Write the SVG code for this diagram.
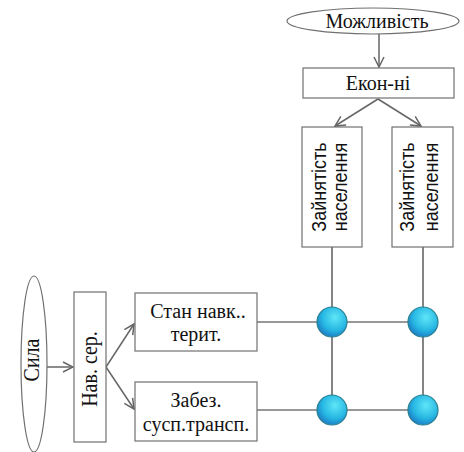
<svg xmlns="http://www.w3.org/2000/svg" width="464" height="452" viewBox="0 0 464 452">
<style>
.box{fill:#fff;stroke:#707070;stroke-width:1.2}
.ser{font-family:"Liberation Serif","Times New Roman",serif;font-size:20px;fill:#111}
.sans{font-family:"Liberation Sans",Arial,sans-serif;font-size:18px;fill:#111}
.arr{stroke:#666;stroke-width:1.5;fill:none;marker-end:url(#ah)}
.ln{stroke:#333;stroke-width:1.2;fill:none}
.node{fill:url(#g);stroke:#2b7f8f;stroke-width:1.2}
</style>
<defs>
<marker id="ah" viewBox="0 0 12 12" refX="11" refY="6" markerWidth="12" markerHeight="12" markerUnits="userSpaceOnUse" orient="auto">
<path d="M1,1 L11,6 L1,11" fill="none" stroke="#666" stroke-width="1.5"/>
</marker>
<radialGradient id="g" cx="0.6" cy="0.35" r="0.7">
<stop offset="0" stop-color="#5fe6f7"/>
<stop offset="0.6" stop-color="#27b8e3"/>
<stop offset="1" stop-color="#1a78c2"/>
</radialGradient>
</defs>
<g id="connectors">
<line class="arr" x1="379" y1="34" x2="379" y2="67"/>
<line class="arr" x1="378" y1="99" x2="335" y2="126"/>
<line class="arr" x1="378" y1="99" x2="421" y2="126"/>
<line class="arr" x1="47" y1="367" x2="73" y2="367"/>
<line class="arr" x1="106" y1="367" x2="134" y2="324"/>
<line class="arr" x1="106" y1="367" x2="134" y2="409"/>
<line class="ln" x1="332" y1="247" x2="332" y2="410"/>
<line class="ln" x1="423" y1="247" x2="423" y2="410"/>
<line class="ln" x1="257" y1="322" x2="423" y2="322"/>
<line class="ln" x1="257" y1="410" x2="423" y2="410"/>
</g>
<g id="mozhlyvist">
<ellipse cx="373" cy="21" rx="86" ry="13" class="box"/>
<text x="377" y="28" text-anchor="middle" class="ser">Можливість</text>
</g>
<g id="ekon">
<rect x="303" y="68" width="151" height="30" class="box"/>
<text x="378" y="90" text-anchor="middle" class="ser">Екон-ні</text>
</g>
<g id="zainiatist1">
<rect x="302" y="127" width="60" height="120" class="box"/>
<text transform="translate(326,187) scale(1.15,1) rotate(-90)" text-anchor="middle" class="sans">Зайнятість</text>
<text transform="translate(347,187) scale(1.15,1) rotate(-90)" text-anchor="middle" class="sans">населення</text>
</g>
<g id="zainiatist2">
<rect x="392" y="127" width="61" height="120" class="box"/>
<text transform="translate(414,187) scale(1.15,1) rotate(-90)" text-anchor="middle" class="sans">Зайнятість</text>
<text transform="translate(438,187) scale(1.15,1) rotate(-90)" text-anchor="middle" class="sans">населення</text>
</g>
<g id="syla">
<ellipse cx="34" cy="364" rx="13" ry="88" class="box"/>
<text transform="translate(39,360) scale(1.2,1) rotate(-90)" text-anchor="middle" class="ser">Сила</text>
</g>
<g id="nav-ser">
<rect x="74" y="292" width="32" height="150" class="box"/>
<text transform="translate(97,369) scale(1.2,1) rotate(-90)" text-anchor="middle" class="ser">Нав. сер.</text>
</g>
<g id="stan">
<rect x="135" y="293" width="122" height="58" class="box"/>
<text x="198" y="318" text-anchor="middle" class="ser">Стан навк..</text>
<text x="196" y="341" text-anchor="middle" class="ser">терит.</text>
</g>
<g id="zabez">
<rect x="135" y="382" width="122" height="59" class="box"/>
<text x="196" y="407" text-anchor="middle" class="ser">Забез.</text>
<text x="196" y="431" text-anchor="middle" class="ser">сусп.трансп.</text>
</g>
<g id="n1"><circle cx="332" cy="322" r="15" class="node"/></g>
<g id="n2"><circle cx="423" cy="322" r="15" class="node"/></g>
<g id="n3"><circle cx="332" cy="410" r="15" class="node"/></g>
<g id="n4"><circle cx="423" cy="410" r="15" class="node"/></g>
</svg>
